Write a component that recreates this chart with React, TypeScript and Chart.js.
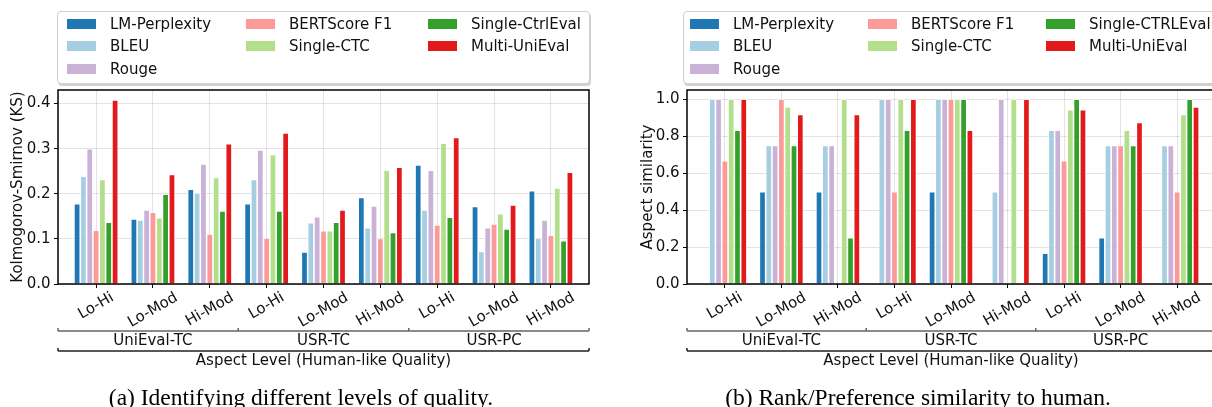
import React, { useEffect, useRef } from 'react';
import { Chart, registerables } from 'chart.js';
Chart.register(...registerables);

// ---------- data ----------
const categories = ['Lo-Hi', 'Lo-Mod', 'Hi-Mod', 'Lo-Hi', 'Lo-Mod', 'Hi-Mod', 'Lo-Hi', 'Lo-Mod', 'Hi-Mod'];
const groups = ['UniEval-TC', 'USR-TC', 'USR-PC'];
const xAxisTitle = 'Aspect Level (Human-like Quality)';

const seriesNamesA = ['LM-Perplexity', 'BLEU', 'Rouge', 'BERTScore F1', 'Single-CTC', 'Single-CtrlEval', 'Multi-UniEval'];
const seriesNamesB = ['LM-Perplexity', 'BLEU', 'Rouge', 'BERTScore F1', 'Single-CTC', 'Single-CTRLEval', 'Multi-UniEval'];
const seriesColors = ['#1f78b4', '#a6cee3', '#cab2d6', '#fb9a99', '#b2df8a', '#33a02c', '#e31a1c'];

// (a) Kolmogorov-Smirnov
const lmPerplexityA = [0.178, 0.144, 0.210, 0.178, 0.071, 0.192, 0.264, 0.172, 0.207];
const bleuA = [0.239, 0.142, 0.202, 0.232, 0.136, 0.125, 0.164, 0.072, 0.102];
const rougeA = [0.300, 0.164, 0.266, 0.297, 0.149, 0.173, 0.252, 0.125, 0.142];
const bertScoreA = [0.119, 0.159, 0.111, 0.102, 0.118, 0.101, 0.131, 0.133, 0.108];
const singleCtcA = [0.232, 0.147, 0.236, 0.287, 0.118, 0.252, 0.312, 0.156, 0.213];
const singleCtrlA = [0.137, 0.199, 0.162, 0.162, 0.137, 0.114, 0.148, 0.122, 0.096];
const multiUniEvalA = [0.408, 0.243, 0.311, 0.335, 0.164, 0.259, 0.325, 0.175, 0.248];

// (b) Aspect similarity
const lmPerplexityB = [0, 0.5, 0.5, 0, 0.5, 0, 0.167, 0.25, 0];
const bleuB = [1, 0.75, 0.75, 1, 1, 0.5, 0.833, 0.75, 0.75];
const rougeB = [1, 0.75, 0.75, 1, 1, 1, 0.833, 0.75, 0.75];
const bertScoreB = [0.667, 1, 0, 0.5, 1, 0, 0.667, 0.75, 0.5];
const singleCtcB = [1, 0.958, 1, 1, 1, 1, 0.944, 0.833, 0.917];
const singleCtrlB = [0.833, 0.75, 0.25, 0.833, 1, 0, 1, 0.75, 1];
const multiUniEvalB = [1, 0.917, 0.917, 1, 0.833, 1, 0.944, 0.875, 0.958];

const yTicksA = [0, 0.1, 0.2, 0.3, 0.4];
const yTicksB = [0, 0.2, 0.4, 0.6, 0.8, 1.0];

// legend layout (matplotlib ncol=3 fills columns 3,2,2)
const legendCol = [0, 0, 0, 1, 1, 2, 2];
const legendRow = [0, 1, 2, 0, 1, 0, 1];

const FONT = '"DejaVu Sans", sans-serif';
const FS = 15;

function makeDecor() {
  return {
    id: 'decor',
    afterDraw(chart: any) {
      const { ctx, chartArea } = chart;
      const xs = chart.scales.x;
      const L = chartArea.left, R = chartArea.right, T = chartArea.top, B = chartArea.bottom;
      ctx.save();
      ctx.strokeStyle = '#000';
      ctx.lineWidth = 1.5;
      ctx.strokeRect(L, T, R - L, B - T);
      ctx.font = `${FS}px ${FONT}`;
      ctx.fillStyle = '#111';
      const ang = (30 * Math.PI) / 180;
      const top = B + 6;
      categories.forEach((lab, i) => {
        const w = ctx.measureText(lab).width;
        const H = w * Math.sin(ang) + FS * Math.cos(ang);
        const cx = xs.getPixelForValue(i);
        const cy = top + H / 2;
        ctx.save();
        ctx.translate(cx, cy);
        ctx.rotate(-ang);
        ctx.textAlign = 'center';
        ctx.textBaseline = 'middle';
        ctx.fillText(lab, 0, 0);
        ctx.restore();
      });
      const y1 = B + 47;
      const bounds = [L, xs.getPixelForValue(2.5), xs.getPixelForValue(5.5), R];
      ctx.strokeStyle = '#666';
      ctx.lineWidth = 1.5;
      ctx.beginPath();
      ctx.moveTo(L, y1);
      ctx.lineTo(R, y1);
      bounds.forEach((bx) => {
        ctx.moveTo(bx, y1);
        ctx.lineTo(bx, y1 - 3);
      });
      ctx.stroke();
      ctx.textAlign = 'center';
      ctx.textBaseline = 'middle';
      groups.forEach((g, k) => {
        ctx.fillText(g, xs.getPixelForValue(k * 3 + 1), B + 57);
      });
      const y2 = B + 67;
      ctx.strokeStyle = '#222';
      ctx.beginPath();
      ctx.moveTo(L, y2);
      ctx.lineTo(R, y2);
      ctx.moveTo(L, y2);
      ctx.lineTo(L, y2 - 3);
      ctx.moveTo(R, y2);
      ctx.lineTo(R, y2 - 3);
      ctx.stroke();
      ctx.fillText(xAxisTitle, (L + R) / 2, B + 77);
      ctx.restore();
    },
  };
}

type PanelProps = {
  left: number;
  width: number;
  series: number[][];
  names: string[];
  yMax: number;
  yTicks: number[];
  yTitle: string;
  yTitlePad: number;
  yWidth: number;
  padRight: number;
};

function Panel(p: PanelProps) {
  const ref = useRef<HTMLCanvasElement | null>(null);
  useEffect(() => {
    if (!ref.current) return;
    const gridX = {
      color: 'rgba(0,0,0,0.11)',
      lineWidth: 1,
      tickColor: '#000',
      tickLength: 4,
      drawTicks: true,
      offset: false,
    };
    const gridY = { ...gridX };
    const chart = new Chart(ref.current, {
      type: 'bar',
      data: {
        datasets: p.series.map((vals, k) => ({
          label: p.names[k],
          data: vals.map((v, i) => ({ x: i, y: v })),
          backgroundColor: seriesColors[k],
          borderColor: '#ffffff',
          borderWidth: 0.8,
          borderSkipped: 'start',
        })),
      },
      options: {
        responsive: false,
        animation: false,
        events: [],
        layout: { padding: { left: 0, top: 90, right: p.padRight, bottom: 123 } },
        plugins: { legend: { display: false }, tooltip: { enabled: false } },
        datasets: { bar: { categoryPercentage: 0.78, barPercentage: 1 } },
        scales: {
          x: {
            type: 'linear',
            offset: false,
            min: -0.67,
            max: 8.67,
            afterBuildTicks: (s: any) => {
              s.ticks = categories.map((_, i) => ({ value: i }));
            },
            ticks: { display: false },
            grid: gridX,
            border: { display: false },
            afterFit: (s: any) => {
              s.height = 0;
            },
          },
          y: {
            type: 'linear',
            min: 0,
            max: p.yMax,
            afterBuildTicks: (s: any) => {
              s.ticks = p.yTicks.map((v) => ({ value: v }));
            },
            ticks: {
              callback: (v: any) => Number(v).toFixed(1),
              padding: 3.5,
              font: { size: FS, family: FONT },
              color: '#111',
            },
            grid: gridY,
            border: { display: false },
            title: {
              display: true,
              text: p.yTitle,
              font: { size: FS, family: FONT },
              color: '#111',
              padding: { top: p.yTitlePad, bottom: 0 },
            },
            afterFit: (s: any) => {
              s.width = p.yWidth;
            },
          },
        },
      } as any,
      plugins: [makeDecor()],
    });
    return () => chart.destroy();
  }, []);
  return (
    <canvas
      ref={ref}
      width={p.width}
      height={407}
      style={{ position: 'absolute', left: p.left, top: 0, width: p.width, height: 407 }}
    />
  );
}

function Legend({ left, names, colOffsets }: { left: number; names: string[]; colOffsets: number[] }) {
  return (
    <div
      style={{
        position: 'absolute',
        left,
        top: 11,
        width: 531,
        height: 71,
        border: '1px solid #cfcfcf',
        borderRadius: 4,
        background: '#fff',
        boxShadow: '1px 2px 0 rgba(0,0,0,0.18)',
      }}
    >
      {names.map((n, i) => {
        const cy = 11.5 + legendRow[i] * 22.5;
        const x = colOffsets[legendCol[i]];
        return (
          <React.Fragment key={i}>
            <div
              style={{
                position: 'absolute',
                left: x,
                top: cy - 5,
                width: 29,
                height: 10,
                background: seriesColors[i],
              }}
            />
            <div
              style={{
                position: 'absolute',
                left: x + 43,
                top: cy - 10,
                height: 20,
                lineHeight: '20px',
                fontSize: FS,
                fontFamily: FONT,
                color: '#111',
                whiteSpace: 'nowrap',
              }}
            >
              {n}
            </div>
          </React.Fragment>
        );
      })}
    </div>
  );
}

const captionStyle: React.CSSProperties = {
  position: 'absolute',
  top: 386,
  width: 500,
  textAlign: 'center',
  fontFamily: '"Liberation Serif", "Times New Roman", serif',
  fontSize: 23.5,
  lineHeight: '23px',
  color: '#000',
  whiteSpace: 'nowrap',
};

export default function App() {
  const seriesA = [lmPerplexityA, bleuA, rougeA, bertScoreA, singleCtcA, singleCtrlA, multiUniEvalA];
  const seriesB = [lmPerplexityB, bleuB, rougeB, bertScoreB, singleCtcB, singleCtrlB, multiUniEvalB];
  return (
    <div
      style={{
        position: 'fixed',
        left: 0,
        top: 0,
        width: 1212,
        height: 407,
        overflow: 'hidden',
        background: '#fff',
      }}
    >
      <Panel
        left={0}
        width={606}
        series={seriesA}
        names={seriesNamesA}
        yMax={0.43}
        yTicks={yTicksA}
        yTitle="Kolmogorov-Smirnov (KS)"
        yTitlePad={9.3}
        yWidth={58}
        padRight={17}
      />
      <Panel
        left={606}
        width={620}
        series={seriesB}
        names={seriesNamesB}
        yMax={1.05}
        yTicks={yTicksB}
        yTitle="Aspect similarity"
        yTitlePad={33.3}
        yWidth={81}
        padRight={11}
      />
      <Legend left={57} names={seriesNamesA} colOffsets={[9, 188, 370]} />
      <Legend left={683} names={seriesNamesB} colOffsets={[6, 184, 362]} />
      <div style={{ ...captionStyle, left: 301 - 250 }}>(a) Identifying different levels of quality.</div>
      <div style={{ ...captionStyle, left: 918 - 250 }}>(b) Rank/Preference similarity to human.</div>
    </div>
  );
}
